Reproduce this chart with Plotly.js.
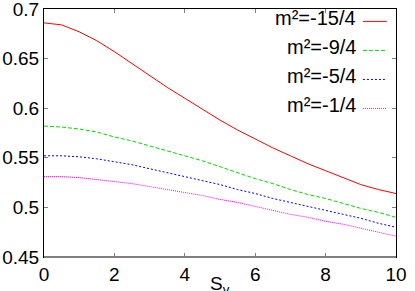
<!DOCTYPE html>
<html>
<head>
<meta charset="utf-8">
<script src="https://cdn.plot.ly/plotly-3.0.1.min.js"></script>
<style>html,body{margin:0;padding:0;background:#fff;}#chart{width:415px;height:291px;}</style>
</head>
<body>
<div id="chart"></div>
<script>
const sv = [0, 0.5, 1, 1.5, 2, 2.5, 3, 3.5, 4, 4.5, 5, 5.5, 6, 6.5, 7, 7.5, 8, 8.5, 9, 9.5, 10];
const m2_15_4 = [0.686, 0.684, 0.677, 0.668, 0.657, 0.645, 0.633, 0.621, 0.610, 0.599, 0.588, 0.578, 0.569, 0.560, 0.552, 0.544, 0.537, 0.530, 0.523, 0.518, 0.514];
const m2_9_4  = [0.582, 0.581, 0.579, 0.576, 0.571, 0.567, 0.562, 0.557, 0.552, 0.547, 0.541, 0.535, 0.529, 0.524, 0.518, 0.513, 0.509, 0.504, 0.499, 0.495, 0.490];
const m2_5_4  = [0.552, 0.552, 0.551, 0.549, 0.546, 0.543, 0.539, 0.535, 0.531, 0.527, 0.523, 0.518, 0.514, 0.509, 0.505, 0.501, 0.497, 0.493, 0.489, 0.484, 0.480];
const m2_1_4  = [0.531, 0.531, 0.530, 0.528, 0.526, 0.524, 0.521, 0.518, 0.515, 0.512, 0.508, 0.505, 0.501, 0.497, 0.493, 0.490, 0.486, 0.483, 0.479, 0.475, 0.471];
const seriesNames = ["m²=-15/4", "m²=-9/4", "m²=-5/4", "m²=-1/4"];
const xTitle = "S<sub>v</sub>";
const xTicks = [0, 2, 4, 6, 8, 10];
const yTicks = [0.45, 0.5, 0.55, 0.6, 0.65, 0.7];
const yTickText = ["0.45", "0.5", "0.55", "0.6", "0.65", "0.7"];

const seriesData = [m2_15_4, m2_9_4, m2_5_4, m2_1_4];
const colors = ["#ff0000", "#00dd00", "#0000ff", "#ff00ff"];
const dashes = ["solid", "4px,2px", "2px,2px", "1px,1px"];

const traces = seriesData.map((y, i) => ({
  x: sv, y: y, type: "scatter", mode: "lines", name: seriesNames[i],
  line: {color: colors[i], width: 1, dash: dashes[i]}, showlegend: false
}));

const font = {family: "Liberation Sans, Arial, sans-serif", size: 19, color: "#000"};
const legendFont = {family: "Liberation Sans, Arial, sans-serif", size: 20, color: "#000"};
const rowY = [0.956, 0.839, 0.722, 0.605];
const annotations = seriesNames.map((n, i) => ({
  xref: "paper", yref: "paper", x: 0.892, y: rowY[i] + 0.006, xanchor: "right", yanchor: "middle",
  text: n, showarrow: false, font: legendFont
}));
annotations.push({xref: "paper", yref: "paper", x: 0.5, y: -0.056, xanchor: "center", yanchor: "top",
  text: xTitle, showarrow: false, font: font});
const shapes = seriesNames.map((n, i) => ({
  type: "line", xref: "paper", yref: "paper", x0: 0.906, x1: 0.974, y0: rowY[i] - 0.006, y1: rowY[i] - 0.006,
  line: {color: colors[i], width: 1, dash: dashes[i]}
}));
shapes.push({type: "line", xref: "paper", yref: "paper", x0: 0, x1: 1, y0: 0, y1: 0,
  line: {color: "#808080", width: 2}, layer: "above"});

const layout = {
  width: 415, height: 291,
  margin: {l: 44, r: 19, t: 9, b: 34},
  paper_bgcolor: "#fff", plot_bgcolor: "#fff",
  font: font,
  showlegend: false,
  xaxis: {
    range: [0, 10], tickvals: xTicks, ticktext: xTicks.map(String),
    ticks: "inside", ticklen: 4, tickcolor: "#808080", tickwidth: 1,
    showline: true, linecolor: "#000", linewidth: 1, mirror: "ticks",
    showgrid: false, zeroline: false, tickfont: font, ticklabeloverflow: "allow"
  },
  yaxis: {
    range: [0.45, 0.7], tickvals: yTicks, ticktext: yTickText,
    ticks: "inside", ticklen: 4, tickcolor: "#808080", tickwidth: 1,
    showline: true, linecolor: "#000", linewidth: 1, mirror: "ticks",
    showgrid: false, zeroline: false, tickfont: font, ticklabeloverflow: "allow"
  },
  annotations: annotations,
  shapes: shapes
};

Plotly.newPlot("chart", traces, layout, {staticPlot: true, displayModeBar: false});
</script>
</body>
</html>
